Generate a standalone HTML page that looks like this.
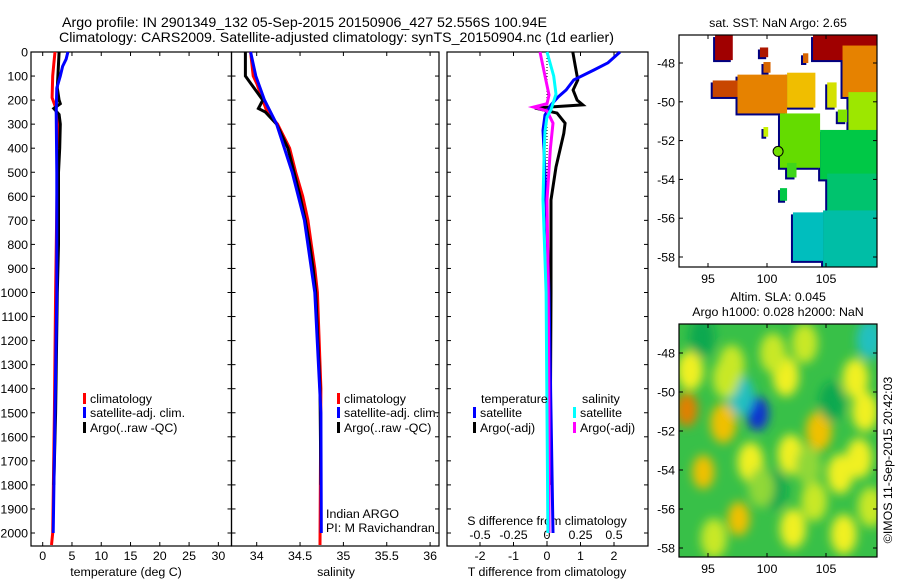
<!DOCTYPE html>
<html><head><meta charset="utf-8"><style>
html,body{margin:0;padding:0;background:#fff;}
svg{display:block;font-family:"Liberation Sans",sans-serif;}
text{fill:#000;}
</style></head><body>
<svg id="fig" width="900" height="580" viewBox="0 0 900 580" xmlns="http://www.w3.org/2000/svg">
<defs>
<filter id="blur" x="-50%" y="-50%" width="200%" height="200%"><feGaussianBlur stdDeviation="5"/></filter>
<clipPath id="clipSLA"><rect x="679" y="324" width="198" height="233"/></clipPath>
<clipPath id="clipSST"><rect x="679" y="35" width="198" height="232"/></clipPath>
</defs>
<text x="62" y="27" font-size="14" textLength="485" lengthAdjust="spacingAndGlyphs">Argo profile: IN 2901349_132 05-Sep-2015 20150906_427 52.556S 100.94E</text>
<text x="59" y="42" font-size="14" textLength="555" lengthAdjust="spacingAndGlyphs">Climatology: CARS2009. Satellite-adjusted climatology: synTS_20150904.nc (1d earlier)</text>
<g id="layer"></g>
</svg>
<script>
// ---------- profile data ----------
const climTDepth=[0,50,100,190,230,300,500,1000,1500,2000,2050];
const climTVals=[2.1,1.9,1.7,1.6,2.2,2.6,2.5,2.2,2.0,1.7,1.5];
const satTDepth=[0,30,60,100,150,250,500,1000,1500,2000];
const satTVals=[4.3,4.0,3.4,3.0,2.4,2.3,2.4,2.4,2.1,1.8];
const argoTDepth=[0,100,150,200,215,235,260,300,400,500,800,1000,1500,1800];
const argoTVals=[2.8,2.6,2.5,2.8,3.0,1.9,2.8,3.0,2.9,2.7,2.7,2.5,2.2,1.9];

const climSDepth=[0,100,130,200,250,300,400,500,600,700,800,900,1000,1400,2050];
const climSVals=[33.93,33.96,34.0,34.07,34.12,34.24,34.38,34.45,34.53,34.59,34.63,34.67,34.7,34.74,34.73];
const satSDepth=[0,100,200,300,500,700,1000,1500,2000];
const satSVals=[33.93,33.99,34.09,34.23,34.41,34.55,34.67,34.74,34.745];
const argoSDepth=[0,100,130,200,235,250,300,400,500,600,700,800,900,1000,1400,1800];
const argoSVals=[33.87,33.87,33.93,34.07,34.02,34.1,34.23,34.36,34.43,34.5,34.56,34.61,34.65,34.68,34.73,34.74];

const argoTdDepth=[0,54,116,158,200,220,233,254,296,338,478,615,1000,1500,1800];
const argoTdVals=[0.77,0.84,0.92,0.78,0.9,1.07,-0.36,0.3,0.54,0.5,0.27,0.12,0.12,0.1,0.12];
const satTdDepth=[0,45,75,116,158,187,220,262,325,407,615,1000,1500,2000];
const satTdVals=[2.18,1.82,1.4,0.8,0.57,0.33,0.12,-0.06,-0.12,-0.09,-0.03,0.06,0.12,0.18];
const argoSdDepth=[0,100,179,215,229,245,296,400,615,1000,1500,2000];
const argoSdVals=[-0.052,-0.015,0.015,0.0,-0.1,0.0,0.045,0.025,0.0,0.01,0.015,0.015];
const satSdDepth=[0,100,175,240,270,330,400,615,1000,1500,2000];
const satSdVals=[0,0.05,0.067,0.03,0,-0.015,-0.02,-0.03,-0.007,0,0.007];

const depthTicks=[0,100,200,300,400,500,600,700,800,900,1000,1100,1200,1300,1400,1500,1600,1700,1800,1900,2000];
const tempTicks=[0,5,10,15,20,25,30];
const salTicks=[34,34.5,35,35.5,36];
const salTickLabels=["34","34.5","35","35.5","36"];
const tdTicks=[-2,-1,0,1,2];
const sdTicks=[-0.5,-0.25,0,0.25,0.5];
const sdTickLabels=["-0.5","-0.25","0","0.25","0.5"];

// ---------- map data ----------
const latTicks=[48,50,52,54,56,58];
const lonTicks=[95,100,105];
const sstLon0=[95.6,99.4,99.7,103.05,103.9,106.4,95.4,97.5,101.7,105.1,106.9,99.7,101.1,106.0,104.5,105.1,101.7,101.1,104.75,102.2];
const sstLon1=[97.1,100.1,100.3,103.5,109.3,109.3,97.5,101.7,104.1,105.9,109.3,100.1,104.5,106.8,109.3,109.3,102.5,101.7,109.3,104.75];
const sstLat0=[46.56,47.2,47.95,47.5,46.56,47.1,48.9,48.6,48.5,49.0,49.5,51.3,50.6,50.4,51.45,53.7,53.15,54.45,55.6,55.7];
const sstLat1=[47.85,47.7,48.5,48.0,47.85,49.75,49.75,50.6,50.3,50.3,52.0,51.8,53.4,51.05,54.0,55.7,53.9,55.1,58.5,58.2];
const sstVals=[9,8.5,7,7,9,6.5,7.5,6.5,5.5,4.8,4.2,4.5,3.8,4.0,3.0,2.5,3.5,3.0,1.8,1.5];
const argoLon=100.94, argoLat=52.556, argoSST=3.9;

const slaLon=[93.2,93.5,96.3,94.6,99.2,97.8,108.7,94.5,97.6,104.4,107.5,101.6,108.3,106.2,102.0,98.6,102.2,100.5,106.5,97.0,104.0,108.8,95.5,103.2,100.6,96.5,105.5,99.5,103.5,107.8];
const slaLat=[50.9,48.9,51.6,54.1,51.1,50.2,47.3,47.2,56.5,52.0,49.3,49.2,51.0,54.2,53.2,53.6,57.0,48.0,57.3,48.6,55.6,55.9,57.5,47.5,55.0,49.3,50.5,54.9,53.8,53.4];
const slaVals=[0.3,0.12,0.2,0.22,-0.35,-0.15,-0.12,-0.05,0.22,0.18,0.12,0.12,0.15,0.12,0.12,0.12,0.12,0.1,0.12,0.1,0.1,0.1,0.1,0.1,-0.05,0.1,-0.05,0.08,0.08,0.14];

// ---------- helpers ----------
const NS='http://www.w3.org/2000/svg';
const layer=document.getElementById('layer');
const FS=12.4;
function mk(tag,props,parent){const e=document.createElementNS(NS,tag);for(const k in props)e.setAttribute(k,props[k]);(parent||layer).appendChild(e);return e;}
function txt(x,y,s,size,anchor,parent){const e=mk('text',{x:x,y:y,'font-size':size,'text-anchor':anchor||'middle'},parent);e.textContent=s;return e;}

const TOP=52, BOT=546;
const yD=d=>TOP+d*0.2405;
const xT=v=>42.7+v*5.855;
const xS=v=>256.7+(v-34)*86.7;
const xTd=v=>547+v*33.5;
const xSd=v=>547+v*134;

function panel(x0,x1,name){
  const r=mk('rect',{x:x0,y:TOP,width:x1-x0,height:BOT-TOP,fill:'none',stroke:'#000','stroke-width':1.2});
  
  
  depthTicks.forEach(d=>{
    const y=yD(d);
    const t1=mk('line',{x1:x0,x2:x0+4,y1:y,y2:y,stroke:'#000'});
    
    
    const t2=mk('line',{x1:x1,x2:x1-4,y1:y,y2:y,stroke:'#000'});
    
    
  });
}
function xticks(vals,labels,fx,yLab,name){
  vals.forEach((v,i)=>{
    const x=fx(v);
    const a=mk('line',{x1:x,x2:x,y1:BOT,y2:BOT-4,stroke:'#000'});
    
    
    const b=mk('line',{x1:x,x2:x,y1:TOP,y2:TOP+4,stroke:'#000'});
    
    
    const t=txt(x,yLab,labels?labels[i]:String(v),FS);
    
    
  });
}
function series(depths,vals,fx,color,name,w){
  const pts=depths.map((d,i)=>fx(vals[i]).toFixed(1)+','+yD(d).toFixed(1)).join(' ');
  const p=mk('polyline',{points:pts,fill:'none',stroke:color,'stroke-width':w||3,'stroke-linejoin':'miter'});
  
  
}
function legendEntry(x,y,color,label,name){
  const m=mk('rect',{x:x,y:y-10,width:3,height:11,fill:color});
  
  
  const t=txt(x+7,y,label,FS,'start');
  
  
}

// ---------- panel 1: temperature ----------
panel(31,231.5,'temperature-panel');
depthTicks.forEach(d=>{
  const t=txt(28,yD(d)+4.5,String(d),FS,'end');
  
  
});
xticks(tempTicks,null,xT,560,'temperature-axis');
let at=txt(126,576,'temperature (deg C)',FS);


series(climTDepth,climTVals,xT,'#f00','temperature-climatology-line');
series(argoTDepth,argoTVals,xT,'#000','temperature-argo-line');
series(satTDepth,satTVals,xT,'#00f','temperature-satellite-line');
legendEntry(83,403,'#f00','climatology','temp-legend-climatology');
legendEntry(83,417,'#00f','satellite-adj. clim.','temp-legend-satellite');
legendEntry(83,432,'#000','Argo(..raw -QC)','temp-legend-argo');

// ---------- panel 2: salinity ----------
panel(231.5,439,'salinity-panel');
xticks(salTicks,salTickLabels,xS,560,'salinity-axis');
let as=txt(336,576,'salinity',FS);


series(climSDepth,climSVals,xS,'#f00','salinity-climatology-line');
series(argoSDepth,argoSVals,xS,'#000','salinity-argo-line');
series(satSDepth,satSVals,xS,'#00f','salinity-satellite-line');
legendEntry(337,403,'#f00','climatology','sal-legend-climatology');
legendEntry(337,417,'#00f','satellite-adj. clim.','sal-legend-satellite');
legendEntry(337,432,'#000','Argo(..raw -QC)','sal-legend-argo');
let cr1=txt(326,518,'Indian ARGO',FS,'start');


let cr2=txt(326,532,'PI: M Ravichandran',FS,'start');



// ---------- panel 3: differences ----------
panel(447,648,'difference-panel');
tdTicks.forEach(v=>{
  const x=xTd(v);
  const a=mk('line',{x1:x,x2:x,y1:BOT,y2:BOT-4,stroke:'#000'});
  
  
  const b=mk('line',{x1:x,x2:x,y1:TOP,y2:TOP+4,stroke:'#000'});
  
  
  const t=txt(x,560,String(v),FS);
  
  
});
sdTicks.forEach((v,i)=>{
  const t=txt(xSd(v),539,sdTickLabels[i],FS);
  
  
});
let sdt=txt(547,525,'S difference from climatology',FS);


let tdt=txt(547,576,'T difference from climatology',FS);


let zl=mk('line',{x1:xTd(0),x2:xTd(0),y1:TOP,y2:BOT,stroke:'#000','stroke-dasharray':'1,2'});


series(argoTdDepth,argoTdVals,xTd,'#000','t-diff-argo-line');
series(satTdDepth,satTdVals,xTd,'#00f','t-diff-satellite-line');
series(argoSdDepth,argoSdVals,xSd,'#f0f','s-diff-argo-line');
series(satSdDepth,satSdVals,xSd,'#0ff','s-diff-satellite-line');
let lt=txt(481,403,'temperature',FS,'start');


let ls=txt(582,403,'salinity',FS,'start');


legendEntry(473,417,'#00f','satellite','diff-legend-t-satellite');
legendEntry(473,432,'#000','Argo(-adj)','diff-legend-t-argo');
legendEntry(573,417,'#0ff','satellite','diff-legend-s-satellite');
legendEntry(573,432,'#f0f','Argo(-adj)','diff-legend-s-argo');

// ---------- maps ----------
const mx=lon=>708+(lon-95)*11.8;
const myTop=lat=>63+(lat-48)*19.4;
const myBot=lat=>353+(lat-48)*19.5;
function sstColor(v){
  const stops=[[1,[0,190,230]],[2,[0,190,150]],[3,[0,200,70]],[3.8,[100,220,0]],[4.5,[200,240,0]],[5.5,[240,190,0]],[6.5,[230,130,0]],[7.5,[200,70,0]],[9,[160,0,0]]];
  if(v<=stops[0][0])return 'rgb('+stops[0][1]+')';
  for(let i=1;i<stops.length;i++){if(v<=stops[i][0]){const a=stops[i-1],b=stops[i],f=(v-a[0])/(b[0]-a[0]);return 'rgb('+a[1].map((c,j)=>Math.round(c+(b[1][j]-c)*f)).join(',')+')';}}
  return 'rgb('+stops[stops.length-1][1]+')';
}
function slaColor(v){
  if(v<-0.25)return '#1030d0';
  if(v<-0.1)return '#20c0c0';
  if(v<0)return '#10a850';
  if(v<0.09)return '#90d838';
  if(v<0.11)return '#c8e828';
  if(v<0.16)return '#f0f020';
  if(v<0.24)return '#f0c000';
  return '#e08000';
}
function mapFrame(y0,y1,fy,name){
  const r=mk('rect',{x:679,y:y0,width:198,height:y1-y0,fill:'none',stroke:'#000','stroke-width':1.2});
  
  
  latTicks.forEach(l=>{
    const y=fy(l);
    const t=txt(675,y+4.5,'-'+l,FS,'end');
    
    
    const a=mk('line',{x1:679,x2:683,y1:y,y2:y,stroke:'#000'});
    
    
    const b=mk('line',{x1:877,x2:873,y1:y,y2:y,stroke:'#000'});
    
    
  });
  lonTicks.forEach(l=>{
    const x=mx(l);
    const t=txt(x,y1+16,String(l),FS);
    
    
    const a=mk('line',{x1:x,x2:x,y1:y1,y2:y1-4,stroke:'#000'});
    
    
    const b=mk('line',{x1:x,x2:x,y1:y0,y2:y0+4,stroke:'#000'});
    
    
  });
}
// SST map
const sstG=mk('g',{'clip-path':'url(#clipSST)'});


sstVals.forEach((v,i)=>{
  const x0=mx(sstLon0[i]),x1=mx(sstLon1[i]),y0=myTop(sstLat0[i]),y1=myTop(sstLat1[i]);
  const s=mk('rect',{x:x0-2,y:y0+2,width:x1-x0,height:y1-y0,fill:'#000080'},sstG);
  
  
});
sstVals.forEach((v,i)=>{
  const x0=mx(sstLon0[i]),x1=mx(sstLon1[i]),y0=myTop(sstLat0[i]),y1=myTop(sstLat1[i]);
  const c=mk('rect',{x:x0,y:y0,width:x1-x0,height:y1-y0,fill:sstColor(v)},sstG);
  
  
});
const dot=mk('circle',{cx:mx(argoLon),cy:myTop(argoLat),r:5,fill:sstColor(argoSST),stroke:'#000','stroke-width':1});


mapFrame(35,267,myTop,'sst-map');
let st=txt(778,27,'sat. SST: NaN Argo: 2.65',FS);



// SLA map
const slaG=mk('g',{'clip-path':'url(#clipSLA)'});


const bg=mk('rect',{x:679,y:324,width:198,height:233,fill:'#38c048'},slaG);


const blobG=mk('g',{filter:'url(#blur)'},slaG);
slaVals.forEach((v,i)=>{
  const e=mk('ellipse',{cx:mx(slaLon[i]),cy:myBot(slaLat[i]),rx:Math.abs(v)>0.2?11:13,ry:Math.abs(v)>0.2?17:20,fill:slaColor(v)},blobG);
  
  
});
mapFrame(324,557,myBot,'sla-map');
let s1=txt(778,301,'Altim. SLA: 0.045',FS);


let s2=txt(778,316,'Argo h1000: 0.028 h2000: NaN',FS);


let cp=txt(0,0,'©IMOS 11-Sep-2015 20:42:03',FS);
cp.setAttribute('transform','translate(892,460) rotate(-90)');


</script>
</body></html>
